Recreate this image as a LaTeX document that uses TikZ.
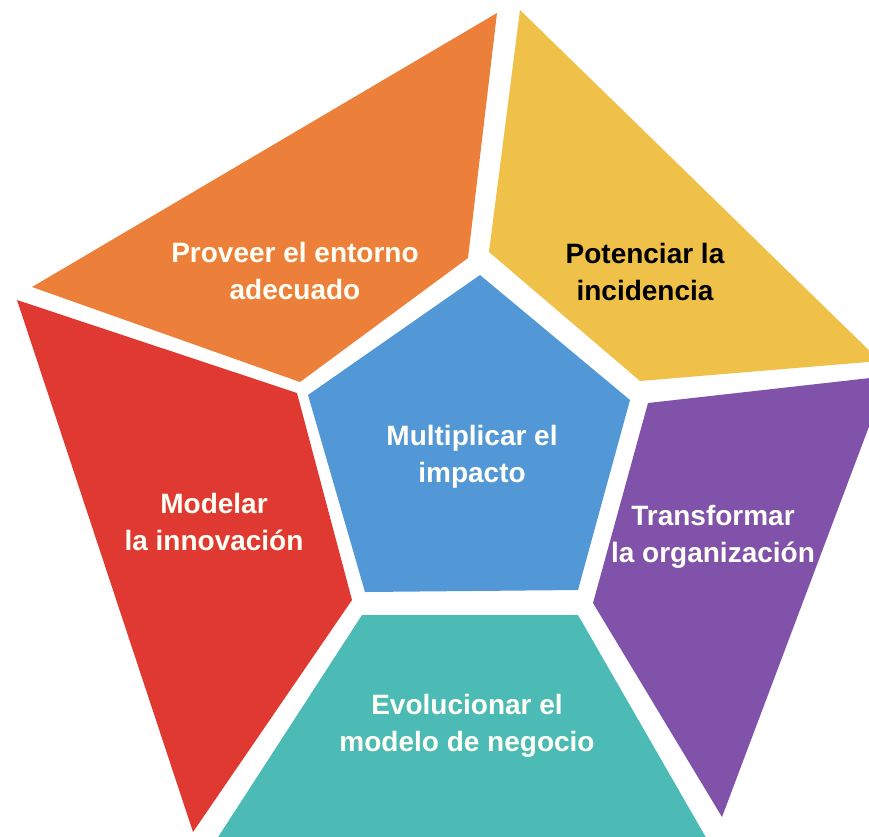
\documentclass[tikz,border=0pt]{standalone}
\usepackage{fontspec}
\setmainfont{Liberation Sans}
\usetikzlibrary{calc}
\definecolor{naranja}{RGB}{236,128,58}
\definecolor{amarillo}{RGB}{240,193,72}
\definecolor{rojo}{RGB}{224,57,50}
\definecolor{azul}{RGB}{82,151,214}
\definecolor{morado}{RGB}{128,82,170}
\definecolor{turquesa}{RGB}{76,186,181}
\def\pieza#1#2{
  \fill [pieza=#1] #2 -- cycle;
}

\begin{document}
\begin{tikzpicture}[x=1pt, y=-1pt,
  pieza/.style={fill=#1, draw=none},
  rotulo/.style={text=white!96!yellow, align=center, inner sep=0pt,
    font=\fontsize{28}{37}\selectfont\bfseries}]
\useasboundingbox (0,0) rectangle (869,836);

% Las cinco piezas de fuera
\pieza{naranja}{(497,13) -- (32,287) -- (300,382) -- (468,258)}
\pieza{amarillo}{(520,10) -- (880,361) -- (640,381) -- (489,252)}
\pieza{morado}{(648,403) -- (888,376) -- (722,817) -- (593,603)}
\pieza{turquesa}{(362,615) -- (578,615) -- (712,848) -- (211,848)}
\pieza{rojo}{(17,300) -- (297,393) -- (352,600) -- (193,832)}
% El centro
\pieza{azul}{(480,275) -- (630,400) -- (578,590) -- (365,592) -- (308,395)}

% Textos
\node [rotulo] (entorno) at (295,271) {Proveer el entorno\\adecuado};
\node [rotulo, text=black] (incidencia) at (645,272) {Potenciar la\\incidencia};
\node [rotulo] (impacto) at (472,457) {Multiplicar el\\impacto};
\node [rotulo] (innovacion) at (214,522) {Modelar\\la innovación};
\node [rotulo] (organizacion) at (713,537) {Transformar\\la organización};
\node [rotulo] (negocio) at (467,726) {Evolucionar el\\modelo de negocio};
\end{tikzpicture}
\end{document}
